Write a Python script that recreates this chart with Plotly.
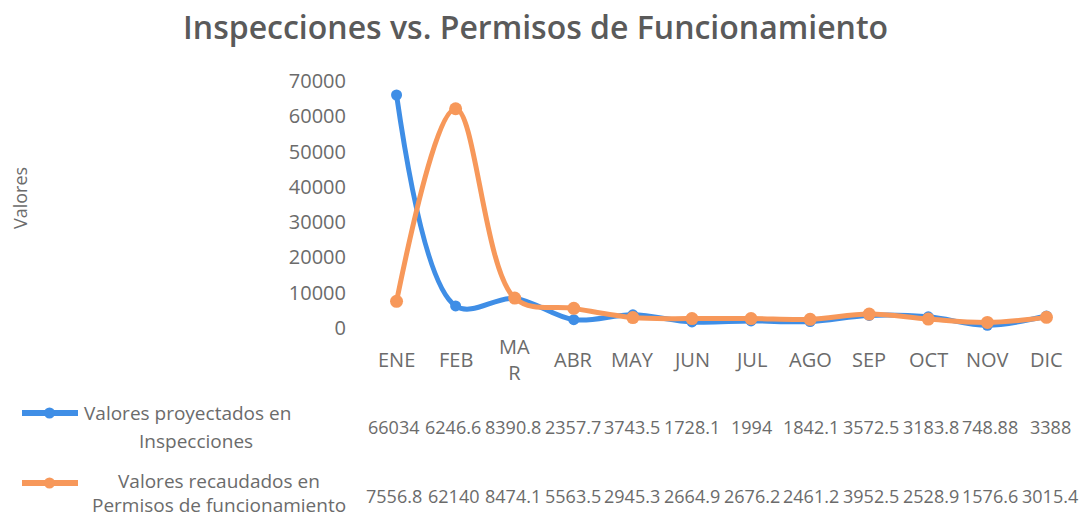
import plotly.graph_objects as go

categories = ["ENE", "FEB", "MAR", "ABR", "MAY", "JUN", "JUL", "AGO", "SEP", "OCT", "NOV", "DIC"]
cat_labels = ["ENE", "FEB", "MA<br>R", "ABR", "MAY", "JUN", "JUL", "AGO", "SEP", "OCT", "NOV", "DIC"]
inspecciones = [66034, 6246.6, 8390.8, 2357.7, 3743.5, 1728.1, 1994, 1842.1, 3572.5, 3183.8, 748.88, 3388]
inspecciones_txt = ["66034", "6246.6", "8390.8", "2357.7", "3743.5", "1728.1", "1994", "1842.1", "3572.5", "3183.8", "748.88", "3388"]
permisos = [7556.8, 62140, 8474.1, 5563.5, 2945.3, 2664.9, 2676.2, 2461.2, 3952.5, 2528.9, 1576.6, 3015.4]
permisos_txt = ["7556.8", "62140", "8474.1", "5563.5", "2945.3", "2664.9", "2676.2", "2461.2", "3952.5", "2528.9", "1576.6", "3015.4"]
y_ticks = [0, 10000, 20000, 30000, 40000, 50000, 60000, 70000]
y_tick_text = [str(v) for v in y_ticks]

name_ins = "Valores proyectados en Inspecciones"
name_per = "Valores recaudados en Permisos de funcionamiento"

W, H = 1082, 519
L, R, T, B = 367, 6, 81, 191
PW, PH = W - L - R, H - T - B

def px(X):
    return (X - L) / PW

def py(Y):
    return (H - B - Y) / PH

BLUE = "#3f8ee6"
ORANGE = "#f7985a"
GRAY = "#6b6b6b"
FONT = "Open Sans"

fig = go.Figure()
fig.add_trace(go.Scatter(x=list(range(12)), y=inspecciones, name=name_ins, mode="lines+markers",
                         line=dict(color=BLUE, width=5, shape="spline", smoothing=1.0),
                         marker=dict(size=11, color=BLUE), cliponaxis=False))
fig.add_trace(go.Scatter(x=list(range(12)), y=permisos, name=name_per, mode="lines+markers",
                         line=dict(color=ORANGE, width=5, shape="spline", smoothing=1.0),
                         marker=dict(size=13, color=ORANGE), cliponaxis=False))

ann = []
for i, lab in enumerate(cat_labels):
    ann.append(dict(x=i, xref="x", y=py(359), yref="paper", text=lab, showarrow=False,
                    xanchor="center", yanchor="middle", font=dict(family=FONT, size=20, color=GRAY)))
for i, (a, b) in enumerate(zip(inspecciones_txt, permisos_txt)):
    ann.append(dict(x=i, xref="x", y=py(427), yref="paper", text=a, showarrow=False, xshift=-3 + 0.6 * i,
                    xanchor="center", yanchor="middle", font=dict(family=FONT, size=18, color=GRAY)))
    ann.append(dict(x=i, xref="x", y=py(496), yref="paper", text=b, showarrow=False, xshift=-3 + 0.6 * i,
                    xanchor="center", yanchor="middle", font=dict(family=FONT, size=18, color=GRAY)))
LF = dict(family=FONT, size=19, color=GRAY)
ann.append(dict(x=px(82), y=py(413), xref="paper", yref="paper", text="Valores proyectados en", showarrow=False,
                xanchor="left", yanchor="middle", font=LF))
ann.append(dict(x=px(196), y=py(441), xref="paper", yref="paper", text="Inspecciones", showarrow=False,
                xanchor="center", yanchor="middle", font=LF))
ann.append(dict(x=px(219), y=py(481), xref="paper", yref="paper", text="Valores recaudados en", showarrow=False,
                xanchor="center", yanchor="middle", font=LF))
ann.append(dict(x=px(219), y=py(505), xref="paper", yref="paper", text="Permisos de funcionamiento", showarrow=False,
                xanchor="center", yanchor="middle", font=LF))
ann.append(dict(x=px(20), y=py(198), xref="paper", yref="paper", text="Valores", showarrow=False, textangle=-90,
                xanchor="center", yanchor="middle", font=dict(family=FONT, size=18, color=GRAY)))

shapes = []
for yk, col in [(413, BLUE), (483, ORANGE)]:
    shapes.append(dict(type="line", xref="paper", yref="paper", x0=px(22), x1=px(78), y0=py(yk), y1=py(yk),
                       line=dict(color=col, width=6)))
    shapes.append(dict(type="circle", xref="paper", yref="paper", x0=px(44), x1=px(55), y0=py(yk + 5.5), y1=py(yk - 5.5),
                       fillcolor=col, line=dict(color=col, width=0)))

fig.update_layout(
    width=W, height=H,
    margin=dict(l=L, r=R, t=T, b=B),
    paper_bgcolor="white", plot_bgcolor="white",
    showlegend=False,
    title=dict(text="Inspecciones vs. Permisos de Funcionamiento", x=0.495, xanchor="center",
               y=1 - 28 / H, yanchor="middle", font=dict(family=FONT, size=32, color="#5a5a5a", weight=600)),
    xaxis=dict(range=[-0.5, 11.5], showticklabels=False, showgrid=False, zeroline=False, showline=False,
               tickmode="array", tickvals=list(range(12))),
    yaxis=dict(range=[0, 70000], tickvals=y_ticks, ticktext=y_tick_text, showgrid=False, zeroline=False,
               showline=False, ticklabelstandoff=20, tickfont=dict(family=FONT, size=20, color=GRAY)),
    annotations=ann, shapes=shapes,
)

fig.write_html("out.html", config={"displayModeBar": False},
               post_script="document.body.style.margin='0';document.body.style.overflow='hidden';")
